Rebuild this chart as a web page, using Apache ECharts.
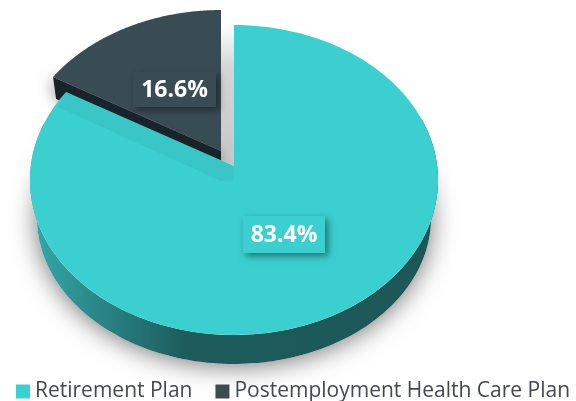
<!DOCTYPE html>
<html>
<head>
<meta charset="utf-8">
<style>
  html, body { margin: 0; padding: 0; background: #fff; }
  #chart { width: 576px; height: 401px; }
</style>
<script src="https://cdn.jsdelivr.net/npm/echarts@6/dist/echarts.min.js"></script>
</head>
<body>
<div id="chart"></div>
<script>
// values
var planNames = ['Retirement Plan', 'Postemployment Health Care Plan'];
var planShares = [83.4, 16.6];
var planLabels = ['83.4%', '16.6%'];

var tealFace = '#3bcfcf';
var darkFace = '#394b53';
var darkWall = '#19242a';

// perspective disc: the centre of the pie sits above the middle of the ellipse
var topDisc = { cx: 234, cy: 166, a: 203.2, b: 153.7, k: 0.0903 };
var lowDisc = { cx: 234, cy: 204.8, a: 196.2, b: 144.8, k: 0.0903 };
var dark = { dx: -13, dy: -15, wall: 22 };

function rim(disc, theta, dx, dy) {
  var w = 1 + disc.k * Math.cos(theta);
  return [
    disc.cx + disc.a * Math.sin(theta) / w + (dx || 0),
    disc.cy - disc.b * Math.cos(theta) / w + (dy || 0)
  ];
}

function arc(disc, from, to, dx, dy) {
  var pts = [];
  var n = 160;
  for (var i = 0; i <= n; i++) {
    pts.push(rim(disc, from + (to - from) * i / n, dx, dy));
  }
  return pts;
}

function slice(disc, from, to, dx, dy) {
  var pts = arc(disc, from, to, dx, dy);
  pts.push([disc.cx + (dx || 0), disc.cy + (dy || 0)]);
  return pts;
}

function poly(points, style) {
  return { type: 'polygon', shape: { points: points }, style: style };
}

function labelBox(text, x, y, w, h, fill) {
  return [
    {
      type: 'rect',
      shape: { x: x, y: y, width: w, height: h },
      style: { fill: fill, shadowBlur: 7, shadowOffsetX: 3, shadowOffsetY: 3, shadowColor: 'rgba(0,0,0,0.45)' }
    },
    {
      type: 'text',
      x: x + w / 2,
      y: y + h / 2 + 0.5,
      style: {
        text: text,
        fill: '#fff',
        font: 'bold 23px "Open Sans"',
        align: 'center',
        verticalAlign: 'middle'
      }
    }
  ];
}

function sweep(share) {
  return share / 100 * Math.PI * 2;
}

// retirement slice: clockwise from 12 o'clock
function renderRetirement(params, api) {
  var end = sweep(api.value(0));
  var top = slice(topDisc, 0, end);
  var wallPts = arc(topDisc, 1.25, 5.0).concat(arc(lowDisc, 5.0, 1.25));
  var cutLeft = rim(topDisc, end);
  var children = [
    poly(wallPts, {
      fill: {
        type: 'linear', x: 0, y: 0, x2: 1, y2: 0,
        colorStops: [
          { offset: 0, color: '#35a9aa' },
          { offset: 0.15, color: '#2b8a8b' },
          { offset: 0.38, color: '#1e5c5c' },
          { offset: 1, color: '#1d5656' }
        ]
      }
    }),
    poly(top, { fill: tealFace }),
    // shade the raised slice drops on the teal face
    poly([
      cutLeft,
      [topDisc.cx, topDisc.cy],
      [topDisc.cx, topDisc.cy + 14],
      [topDisc.cx - 13, topDisc.cy + 15],
      [cutLeft[0] - 8, cutLeft[1] + 15]
    ], { fill: 'rgba(30,110,110,0.09)' })
  ].concat(labelBox(planLabels[0], 243, 216, 82, 37, tealFace));
  return { type: 'group', children: children };
}

// raised slice, lifted off the disc
function renderPostemployment(params, api) {
  var start = Math.PI * 2 - sweep(api.value(0));
  var cut = rim(topDisc, start, dark.dx, dark.dy);
  var apex = [topDisc.cx + dark.dx, topDisc.cy + dark.dy];
  var children = [
    // soft shadow of the whole pie on the ground
    poly(arc(lowDisc, 0, Math.PI * 2), { fill: '#fff', shadowBlur: 26, shadowOffsetY: 2, shadowColor: 'rgba(0,0,0,0.55)' }),
    // gap left behind on the ground
    poly(slice(topDisc, start, Math.PI * 2), {
      fill: {
        type: 'linear', x: 0, y: 0, x2: 0, y2: 1,
        colorStops: [
          { offset: 0, color: '#ffffff' },
          { offset: 0.3, color: '#d6d4d5' },
          { offset: 1, color: '#c9c7c8' }
        ]
      }
    }),
    poly([cut, apex, [apex[0], apex[1] + dark.wall], [cut[0] + 3, cut[1] + dark.wall]], {
      fill: darkWall,
      shadowBlur: 14,
      shadowOffsetX: -2,
      shadowColor: 'rgba(0,0,0,0.35)'
    }),
    poly(slice(topDisc, start, Math.PI * 2, dark.dx, dark.dy), { fill: darkFace })
  ].concat(labelBox(planLabels[1], 133, 72, 83, 35, darkFace));
  return { type: 'group', children: children };
}

var chart = echarts.init(document.getElementById('chart'));
chart.setOption({
  animation: false,
  legend: {
    data: planNames,
    left: 11,
    top: 376,
    icon: 'rect',
    itemWidth: 14,
    itemHeight: 14,
    itemGap: 23,
    textStyle: { fontFamily: 'Open Sans', fontSize: 21, color: '#44494f' }
  },
  series: [
    {
      type: 'custom',
      name: planNames[0],
      coordinateSystem: 'none',
      itemStyle: { color: tealFace },
      z: 3,
      renderItem: renderRetirement,
      data: [[planShares[0]]]
    },
    {
      type: 'custom',
      name: planNames[1],
      coordinateSystem: 'none',
      itemStyle: { color: darkFace },
      z: 2,
      renderItem: renderPostemployment,
      data: [[planShares[1]]]
    }
  ]
});
</script>
</body>
</html>
